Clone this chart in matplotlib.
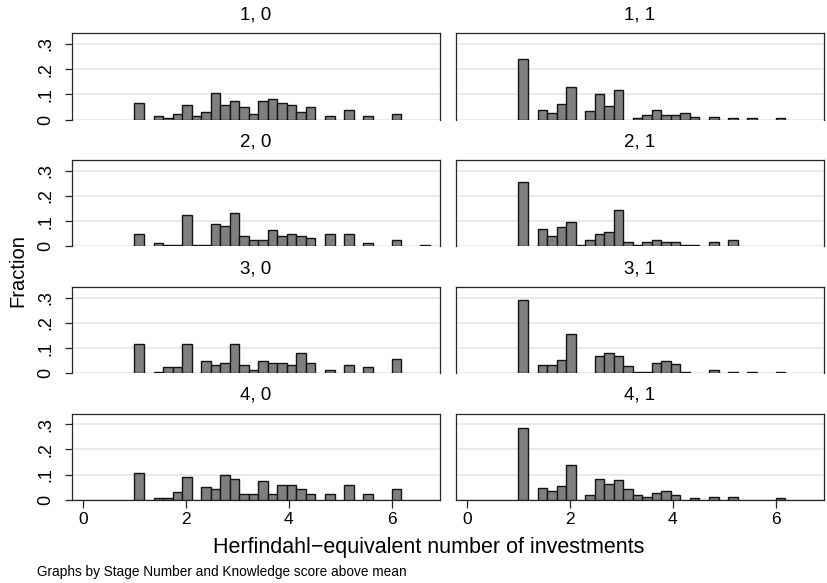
import matplotlib
matplotlib.use("Agg")
import matplotlib.pyplot as plt
import numpy as np

plt.rcParams["font.family"] = ["Liberation Sans", "DejaVu Sans"]

# histogram bins: start at 1, equal width
bin_start = 1.0
bin_width = 5 / 27
n_bins = 31

# fraction per bin, one list per (stage, knowledge) group
frac_1_0 = [.066, 0, .015, .008, .024, .056, .015, .032, .107, .056, .074, .048, .023, .074, .082, .066,
            .056, .031, .048, 0, .015, 0, .040, 0, .015, 0, 0, .023, 0, 0, 0]
frac_1_1 = [.242, 0, .040, .027, .062, .130, 0, .035, .103, .054, .116, 0, .005, .019, .040, .019,
            .019, .027, .012, 0, .012, 0, .005, 0, .005, 0, 0, .005, 0, 0, 0]
frac_2_0 = [.048, 0, .015, .007, .007, .123, .007, .007, .089, .081, .131, .040, .023, .023, .064, .040,
            .048, .040, .032, 0, .048, 0, .048, 0, .015, 0, 0, .023, 0, 0, .007]
frac_2_1 = [.255, 0, .068, .041, .076, .095, .007, .025, .048, .055, .144, .017, .007, .017, .025, .017,
            .017, .007, .007, 0, .017, 0, .025, 0, 0, 0, 0, 0, 0, 0, 0]
frac_3_0 = [.115, 0, .007, .023, .023, .115, 0, .048, .032, .040, .115, .032, .015, .048, .040, .040,
            .032, .081, .040, 0, .015, 0, .032, 0, .023, 0, 0, .056, 0, 0, 0]
frac_3_1 = [.289, 0, .033, .033, .053, .157, 0, 0, .068, .081, .069, .027, .007, .007, .041, .048,
            .035, .007, 0, 0, .013, 0, .007, 0, .007, 0, 0, .007, 0, 0, 0]
frac_4_0 = [.107, 0, .008, .008, .032, .091, 0, .050, .042, .099, .083, .024, .024, .075, .024, .058,
            .058, .042, .024, 0, .024, 0, .058, 0, .024, 0, 0, .042, 0, 0, 0]
frac_4_1 = [.286, 0, .048, .034, .055, .138, 0, .020, .083, .062, .077, .042, .020, .013, .027, .034,
            .020, 0, .007, 0, .013, 0, .013, 0, 0, 0, 0, .007, 0, 0, 0]

panels = [
    ["1, 0", "1, 1"],
    ["2, 0", "2, 1"],
    ["3, 0", "3, 1"],
    ["4, 0", "4, 1"],
]
panel_data = {
    "1, 0": frac_1_0, "1, 1": frac_1_1,
    "2, 0": frac_2_0, "2, 1": frac_2_1,
    "3, 0": frac_3_0, "3, 1": frac_3_1,
    "4, 0": frac_4_0, "4, 1": frac_4_1,
}

W, H = 828, 583
fig = plt.figure(figsize=(W / 100, H / 100), dpi=100)

col_left = [72, 456]
col_width = 368
row_top = [33.3, 160, 287, 413.5]
row_height = 86.3

edges = bin_start + bin_width * np.arange(n_bins)
dark = "#262626"

for r, row in enumerate(panels):
    for c, name in enumerate(row):
        ax = fig.add_axes([col_left[c] / W, 1 - (row_top[r] + row_height) / H,
                           col_width / W, row_height / H])
        vals = np.array(panel_data[name])
        keep = vals > 0
        ax.bar(edges[keep], vals[keep], width=bin_width, align="edge",
               color="#7f7f7f", edgecolor="#141414", linewidth=1.0, zorder=3)

        ax.set_xlim(-0.214, 6.939)
        ax.set_ylim(0, 0.342)
        ax.set_yticks([0, .1, .2, .3])
        ax.set_xticks([0, 2, 4, 6])
        ax.grid(axis="y", color="#e6e6e6", linewidth=1.2, zorder=0)
        ax.set_axisbelow(True)

        for s in ["top", "right", "left"]:
            ax.spines[s].set_color(dark)
            ax.spines[s].set_linewidth(0.9)
        last_row = r == len(panels) - 1
        ax.spines["bottom"].set_visible(last_row)
        ax.spines["bottom"].set_color(dark)
        ax.spines["bottom"].set_linewidth(0.9)

        if c == 0:
            ax.set_yticklabels(["0", ".1", ".2", ".3"], rotation=90, va="center")
            ax.tick_params(axis="y", length=5, width=0.9, color=dark, labelsize=13, pad=8)
        else:
            ax.tick_params(axis="y", length=0, labelleft=False)
        if last_row:
            ax.tick_params(axis="x", length=6, width=0.9, color=dark, labelsize=12.5, pad=3)
        else:
            ax.tick_params(axis="x", length=0, labelbottom=False)

        ax.set_title(name, fontsize=13.5, pad=10)

fig.text(18 / W, 1 - 271 / H, "Fraction", rotation=90, ha="center", va="center", fontsize=14.5)
fig.text(429 / W, 1 - 548 / H, "Herfindahl\u2212equivalent number of investments",
         ha="center", va="center", fontsize=15.5)
fig.text(37 / W, 1 - 572 / H, "Graphs by Stage Number and Knowledge score above mean",
         ha="left", va="center", fontsize=9.8)

fig.savefig("out.png", dpi=100)
